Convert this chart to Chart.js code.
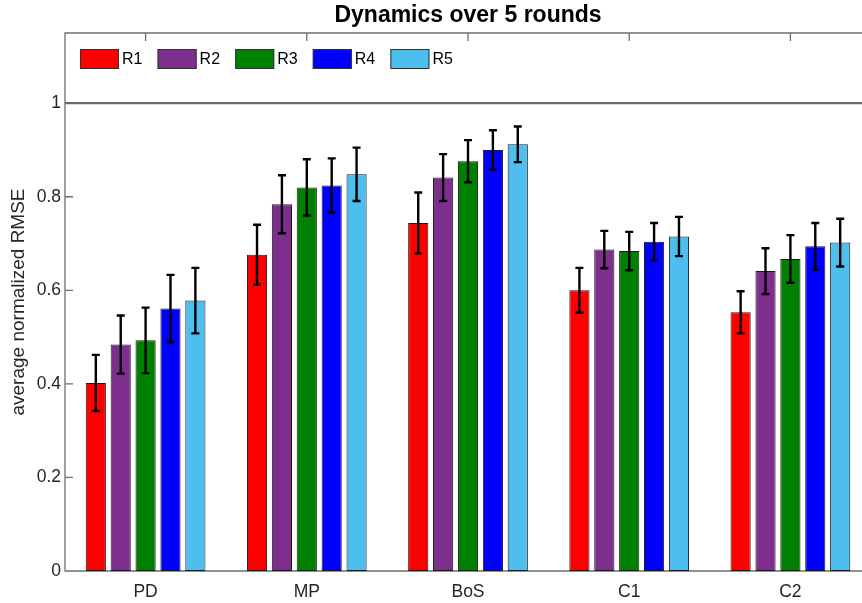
<!DOCTYPE html>
<html>
<head>
<meta charset="utf-8">
<title>Dynamics over 5 rounds</title>
<script src="https://cdn.jsdelivr.net/npm/chart.js@4/dist/chart.umd.min.js"></script>
<style>
  html, body { margin: 0; padding: 0; background: #fff; overflow: hidden; width: 862px; height: 603px; }
  #wrap { position: relative; width: 880px; height: 603px; }
</style>
</head>
<body>
<div id="wrap"><canvas id="c" width="880" height="603"></canvas></div>
<script>
// Games and rounds
const CATEGORIES = ['PD', 'MP', 'BoS', 'C1', 'C2'];
const SERIES_NAMES = ['R1', 'R2', 'R3', 'R4', 'R5'];

// Mean normalized RMSE per game, one array per round
const R1 = [0.402, 0.676, 0.744, 0.600, 0.553];
const R2 = [0.484, 0.784, 0.841, 0.687, 0.641];
const R3 = [0.493, 0.820, 0.876, 0.684, 0.667];
const R4 = [0.561, 0.824, 0.900, 0.704, 0.694];
const R5 = [0.578, 0.848, 0.912, 0.715, 0.702];

// Half-length of each error bar
const R1_ERR = [0.060, 0.064, 0.065, 0.048, 0.045];
const R2_ERR = [0.062, 0.062, 0.050, 0.040, 0.049];
const R3_ERR = [0.070, 0.060, 0.045, 0.041, 0.051];
const R4_ERR = [0.072, 0.058, 0.042, 0.040, 0.050];
const R5_ERR = [0.070, 0.057, 0.038, 0.042, 0.051];

const Y_TICKS = [0, 0.2, 0.4, 0.6, 0.8, 1];
const REFERENCE_LEVEL = 1;

const SERIES_VALUES = [R1, R2, R3, R4, R5];
const SERIES_ERRORS = [R1_ERR, R2_ERR, R3_ERR, R4_ERR, R5_ERR];
const COLORS = ['#ff0000', '#7e2f8e', '#008000', '#0000ff', '#4dbeee'];

const FONT = "'Liberation Sans', Arial, Helvetica, sans-serif";
const AXIS_COLOR = '#6e6e6e';
const TEXT_COLOR = '#262626';
const TICK_LEN = 8;

// Box around the plot, inward tick marks and the reference line at 1
const axesFrame = {
  id: 'axesFrame',
  beforeDatasetsDraw(chart) {
    const { ctx, chartArea: a, scales: { x, y } } = chart;
    ctx.save();
    ctx.strokeStyle = AXIS_COLOR;
    ctx.lineWidth = 1.3;
    ctx.beginPath();
    ctx.rect(a.left, a.top, a.right - a.left, a.bottom - a.top);
    Y_TICKS.forEach(v => {
      const py = y.getPixelForValue(v);
      ctx.moveTo(a.left, py); ctx.lineTo(a.left + TICK_LEN, py);
      ctx.moveTo(a.right, py); ctx.lineTo(a.right - TICK_LEN, py);
    });
    CATEGORIES.forEach((_, i) => {
      const px = x.getPixelForValue(i);
      ctx.moveTo(px, a.top); ctx.lineTo(px, a.top + TICK_LEN);
      ctx.moveTo(px, a.bottom); ctx.lineTo(px, a.bottom - TICK_LEN);
    });
    ctx.stroke();

    const ry = y.getPixelForValue(REFERENCE_LEVEL);
    ctx.strokeStyle = '#6a6a6a';
    ctx.lineWidth = 2.2;
    ctx.beginPath();
    ctx.moveTo(a.left, ry); ctx.lineTo(a.right, ry);
    ctx.stroke();
    ctx.restore();
  }
};

// Error bars centred on each bar
const errorBars = {
  id: 'errorBars',
  afterDatasetsDraw(chart) {
    const { ctx, scales: { y } } = chart;
    ctx.save();
    ctx.strokeStyle = '#000';
    ctx.lineWidth = 2.4;
    chart.data.datasets.forEach((ds, d) => {
      const meta = chart.getDatasetMeta(d);
      meta.data.forEach((bar, i) => {
        const v = ds.data[i], e = ds.errors[i];
        const yt = y.getPixelForValue(v + e);
        const yb = y.getPixelForValue(v - e);
        const cx = bar.x, cap = 4;
        ctx.beginPath();
        ctx.moveTo(cx, yt); ctx.lineTo(cx, yb);
        ctx.moveTo(cx - cap, yt); ctx.lineTo(cx + cap, yt);
        ctx.moveTo(cx - cap, yb); ctx.lineTo(cx + cap, yb);
        ctx.stroke();
      });
    });
    ctx.restore();
  }
};

// Horizontal legend in the upper-left corner of the plot
const roundLegend = {
  id: 'roundLegend',
  afterDraw(chart) {
    const { ctx, chartArea: a } = chart;
    ctx.save();
    ctx.font = `16px ${FONT}`;
    ctx.textBaseline = 'middle';
    ctx.textAlign = 'left';
    const x0 = a.left + 15, y0 = a.top + 16, w = 39, h = 20, pitch = 77.6;
    chart.data.datasets.forEach((ds, d) => {
      const sx = x0 + d * pitch;
      ctx.fillStyle = ds.backgroundColor;
      ctx.fillRect(sx, y0, w, h);
      ctx.strokeStyle = '#333';
      ctx.lineWidth = 1;
      ctx.strokeRect(sx + 0.5, y0 + 0.5, w - 1, h - 1);
      ctx.fillStyle = '#000';
      ctx.fillText(ds.label, sx + w + 3, y0 + h / 2 + 1);
    });
    ctx.restore();
  }
};

new Chart(document.getElementById('c'), {
  type: 'bar',
  data: {
    labels: CATEGORIES,
    datasets: SERIES_NAMES.map((name, d) => ({
      label: name,
      data: SERIES_VALUES[d],
      errors: SERIES_ERRORS[d],
      backgroundColor: COLORS[d],
      borderColor: '#1a1a1a',
      borderWidth: 1,
      borderSkipped: false,
      categoryPercentage: 0.772,
      barPercentage: 0.81
    }))
  },
  options: {
    responsive: false,
    animation: false,
    devicePixelRatio: 1,
    layout: { padding: { left: 0, right: 9, top: 0, bottom: 0 } },
    plugins: {
      legend: { display: false },
      tooltip: { enabled: false },
      title: {
        display: true,
        fullSize: false,
        text: 'Dynamics over 5 rounds',
        color: '#000',
        font: { family: FONT, size: 23, weight: 'bold', lineHeight: 1.2 },
        padding: { top: 1.5, bottom: 3.9 }
      }
    },
    scales: {
      x: {
        grid: { display: false },
        border: { display: false },
        ticks: { color: TEXT_COLOR, font: { family: FONT, size: 17.5 }, padding: 3, maxRotation: 0 },
        afterFit(s) { s.height = 32; }
      },
      y: {
        min: 0,
        max: 1.15,
        grid: { display: false },
        border: { display: false },
        afterBuildTicks(s) { s.ticks = Y_TICKS.map(v => ({ value: v })); },
        ticks: {
          color: TEXT_COLOR,
          font: { family: FONT, size: 17.5 },
          padding: -4,
          callback: v => String(+Number(v).toFixed(1))
        },
        title: {
          display: true,
          text: 'average normalized RMSE',
          color: TEXT_COLOR,
          font: { family: FONT, size: 19 },
          padding: { top: 7, bottom: 0 }
        },
        afterFit(s) { s.width = 65; }
      }
    }
  },
  plugins: [axesFrame, errorBars, roundLegend]
});
</script>
</body>
</html>
